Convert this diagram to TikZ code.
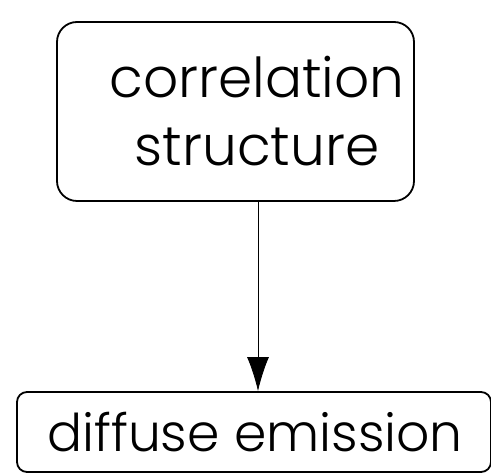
\documentclass[tikz,border=0pt]{standalone}
\usepackage{fontspec}
\setmainfont{Poppins}[UprightFont=* Light]
\usetikzlibrary{arrows.meta}
\begin{document}
\begin{tikzpicture}[x=1pt,y=1pt,
  boxstyle/.style={draw, line width=1.8pt, rounded corners=#1, inner sep=0pt},
  labelstyle/.style={inner sep=0pt, align=center},
  link/.style={line width=0.8pt, -{Latex[length=34pt,width=22pt]}}]
\useasboundingbox (0,0) rectangle (491,474);
\node[boxstyle=20pt, minimum width=357pt, minimum height=179pt] (top) at (235.5,362.5) {};
\node[labelstyle, font=\fontsize{55}{68}\selectfont] (toptext) at (257,362.5) {correlation\\structure};
\node[boxstyle=10pt, minimum width=474pt, minimum height=80pt] (bot) at (254,42) {};
\node[labelstyle, font=\fontsize{52}{60}\selectfont] (bottext) at (255,42) {diffuse emission};
\draw[link] (top.south -| 258,0) -- (bot.north -| 258,0);
\end{tikzpicture}
\end{document}
